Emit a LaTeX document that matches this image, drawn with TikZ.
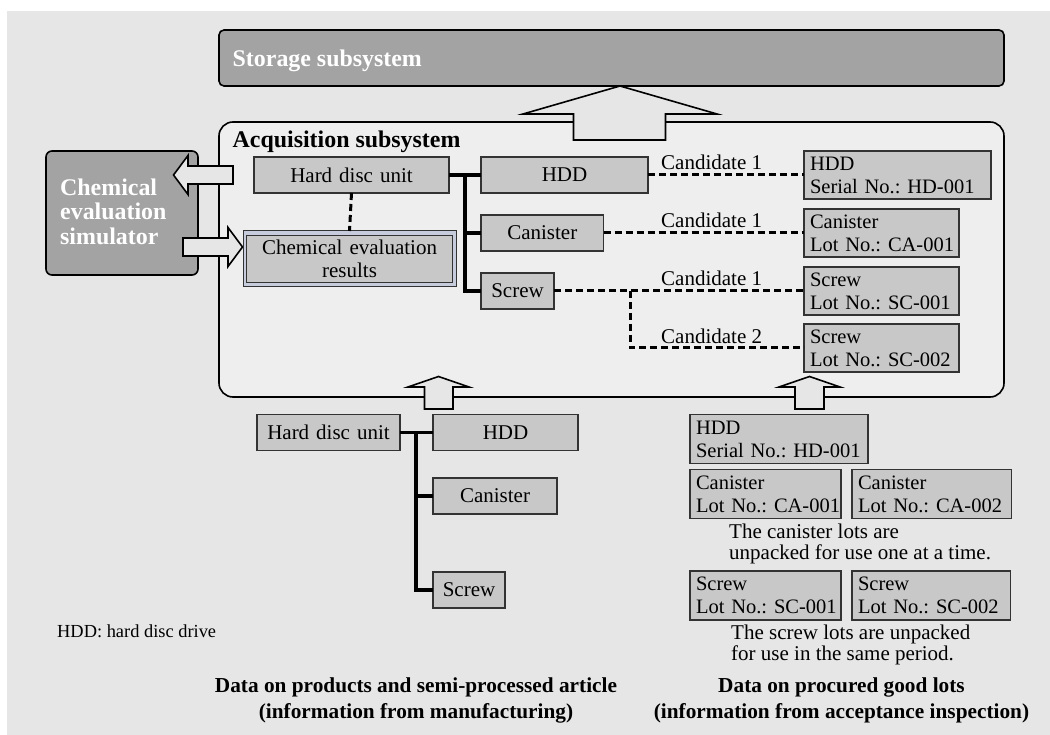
\documentclass[tikz,border=0pt]{standalone}
\usepackage{fontspec}
\setmainfont{Liberation Serif}
\frenchspacing
\definecolor{bgc}{HTML}{E6E6E6}
\definecolor{inner}{HTML}{EEEEEE}
\definecolor{darkc}{HTML}{A3A3A3}
\definecolor{boxc}{HTML}{C8C8C8}
\definecolor{blu}{HTML}{C6CCDC}
\definecolor{edge}{HTML}{333333}
\newcommand{\fn}{\frenchspacing\fontsize{21}{23}\selectfont}
\newcommand{\fl}{\frenchspacing\fontsize{20.5}{23}\selectfont}
\newcommand{\fb}{\frenchspacing\fontsize{23.9}{24.5}\selectfont\bfseries}
\newcommand{\twol}[2]{\mbox{#1}\\\mbox{#2}}
\tikzset{
  x=1pt,y=-1pt,
  bx/.style={draw=edge,line width=1.1pt,fill=boxc,outer sep=0pt,inner xsep=0pt,inner ysep=0pt,text=black,font=\fn},
  cen/.style={bx,align=center},
  lft/.style={bx,align=left,font=\fl},
  solidl/.style={line width=3.4pt,black},
  dashl/.style={line width=3pt,black,dash pattern=on 7pt off 4pt},
  sys/.style={draw=black,line width=1.6pt,fill=darkc,rounded corners=5pt},
  bigarrow/.style={draw=black,line width=1.6pt,fill=bgc,miter limit=20,line join=miter},
  lbl/.style={font=\fn,inner sep=0pt,anchor=west,align=left},
  title/.style={font=\frenchspacing\fontsize{21.3}{25.3}\selectfont\bfseries,align=center,inner sep=0pt},
}
\newcommand{\bxc}[7][cen]{%
  \pgfmathsetmacro{\cxx}{(#3+#5)/2}\pgfmathsetmacro{\cyy}{(#4+#6)/2}%
  \pgfmathsetmacro{\wdd}{#5-#3}\pgfmathsetmacro{\htt}{#6-#4}%
  \node[#1,minimum width=\wdd pt,minimum height=\htt pt,text width=\wdd pt-12pt] (#2) at (\cxx,\cyy) {#7};}
\begin{document}
\begin{tikzpicture}
\useasboundingbox (0,0) rectangle (1050,735);
\fill[white] (0,0) rectangle (1050,735);
\fill[bgc] (7,11) rectangle (1050,735);

% systems
\path[sys] (219,30) rectangle (1004,86);
\node[font=\fb,text=white,inner sep=0pt,anchor=west] (storage) at (232.5,61) {Storage subsystem};
\path[sys,rounded corners=6pt] (46,151) rectangle (198,275);
\node[font=\fb,text=white,inner sep=0pt,anchor=west,align=left] (sim) at (60,211.5) {Chemical\\evaluation\\simulator};
\draw[line width=1.6pt,fill=inner,rounded corners=14pt] (219,122) rectangle (1004,397);
\node[font=\fb,inner sep=0pt,anchor=west] (acq) at (232.5,141.5) {Acquisition subsystem};

% block arrows
\draw[bigarrow] (620,86) -- (717,114) -- (665.5,114) -- (665.5,140) -- (573.5,140) -- (573.5,114) -- (523,114) -- cycle;
\draw[bigarrow] (173.5,175) -- (188,155.5) -- (188,166) -- (233,166) -- (233,184) -- (188,184) -- (188,194.5) -- cycle;
\draw[bigarrow] (242.5,247) -- (228,227.5) -- (228,238) -- (183,238) -- (183,256) -- (228,256) -- (228,266.5) -- cycle;
\draw[bigarrow] (438.5,376.5) -- (469,387) -- (453,387) -- (453,409) -- (424.5,409) -- (424.5,387) -- (408,387) -- cycle;
\draw[bigarrow] (809.5,376.5) -- (840,387) -- (824,387) -- (824,409) -- (795,409) -- (795,387) -- (779,387) -- cycle;

% upper tree
\bxc{hdu}{254}{157}{449}{193}{Hard disc unit}
\node[draw=edge,line width=1pt,fill=blu,minimum width=213pt,minimum height=56pt,outer sep=0pt] (resout) at (349.5,259) {};
\bxc{res}{246.5}{235.5}{452.5}{282.5}{Chemical evaluation\\results}
\bxc{hdd}{481}{157}{648}{193}{HDD}
\bxc{can}{481}{215}{603.5}{251}{Canister}
\bxc{scr}{481}{273}{554}{309}{Screw}
\bxc[lft]{rhdd}{804}{151}{991}{199}{\twol{HDD}{Serial No.: HD-001}}
\bxc[lft]{rcan}{804}{209}{959}{257}{\twol{Canister}{Lot No.: CA-001}}
\bxc[lft]{rsa}{804}{267}{959}{315}{\twol{Screw}{Lot No.: SC-001}}
\bxc[lft]{rsb}{804}{324}{959}{372}{\twol{Screw}{Lot No.: SC-002}}
\coordinate (j1) at (465,175);
\draw[solidl] (hdu.east) -- (hdd.west);
\draw[solidl] (j1) |- (scr.west);
\draw[solidl] (j1) |- (can.west);
\draw[dashl] (hdu.south) -- (resout.north);
\draw[dashl] (hdd.east) -- (rhdd.west);
\draw[dashl] (can.east) -- (rcan.west);
\draw[dashl] (scr.east) -- (rsa.west);
\coordinate (j2) at (630,291);
\draw[dashl] (j2) |- (rsb.west);
\node[lbl] (c1) at (661,162) {Candidate 1};
\node[lbl] (c2) at (661,220) {Candidate 1};
\node[lbl] (c3) at (661,278) {Candidate 1};
\node[lbl] (c4) at (661,336) {Candidate 2};

% lower left tree
\bxc{lhdu}{257}{414.5}{400}{450.5}{Hard disc unit}
\bxc{lhdd}{433}{414.5}{578}{450.5}{HDD}
\bxc{lcan}{433}{478}{557}{514}{Canister}
\bxc{lscr}{433}{572}{505}{608}{Screw}
\coordinate (j3) at (416,432.5);
\draw[solidl] (lhdu.east) -- (lhdd.west);
\draw[solidl] (j3) |- (lscr.west);
\draw[solidl] (j3) |- (lcan.west);

% lower right lots
\bxc[lft]{lots1}{690}{414.5}{868}{463.5}{\twol{HDD}{Serial No.: HD-001}}
\bxc[lft]{lots2}{690}{469.5}{841}{518.5}{\twol{Canister}{Lot No.: CA-001}}
\bxc[lft]{lots3}{852}{469.5}{1011.5}{518.5}{\twol{Canister}{Lot No.: CA-002}}
\bxc[lft]{lots4}{690}{571}{841}{620}{\twol{Screw}{Lot No.: SC-001}}
\bxc[lft]{lots5}{852}{571}{1010.5}{620}{\twol{Screw}{Lot No.: SC-002}}
\node[lbl,font=\frenchspacing\fontsize{21}{21}\selectfont] (n1) at (729,543.5) {The canister lots are\\unpacked for use one at a time.};
\node[lbl,font=\frenchspacing\fontsize{21}{21}\selectfont] (n2) at (731,645) {The screw lots are unpacked\\for use in the same period.};

\node[lbl,font=\fontsize{18.4}{20}\selectfont] (abbr) at (57,631) {HDD: hard disc drive};
\node[title] (t1) at (416,700.5) {Data on products and semi-processed article\\(information from manufacturing)};
\node[title] (t2) at (841.5,700.5) {Data on procured good lots\\(information from acceptance inspection)};
\end{tikzpicture}
\end{document}
